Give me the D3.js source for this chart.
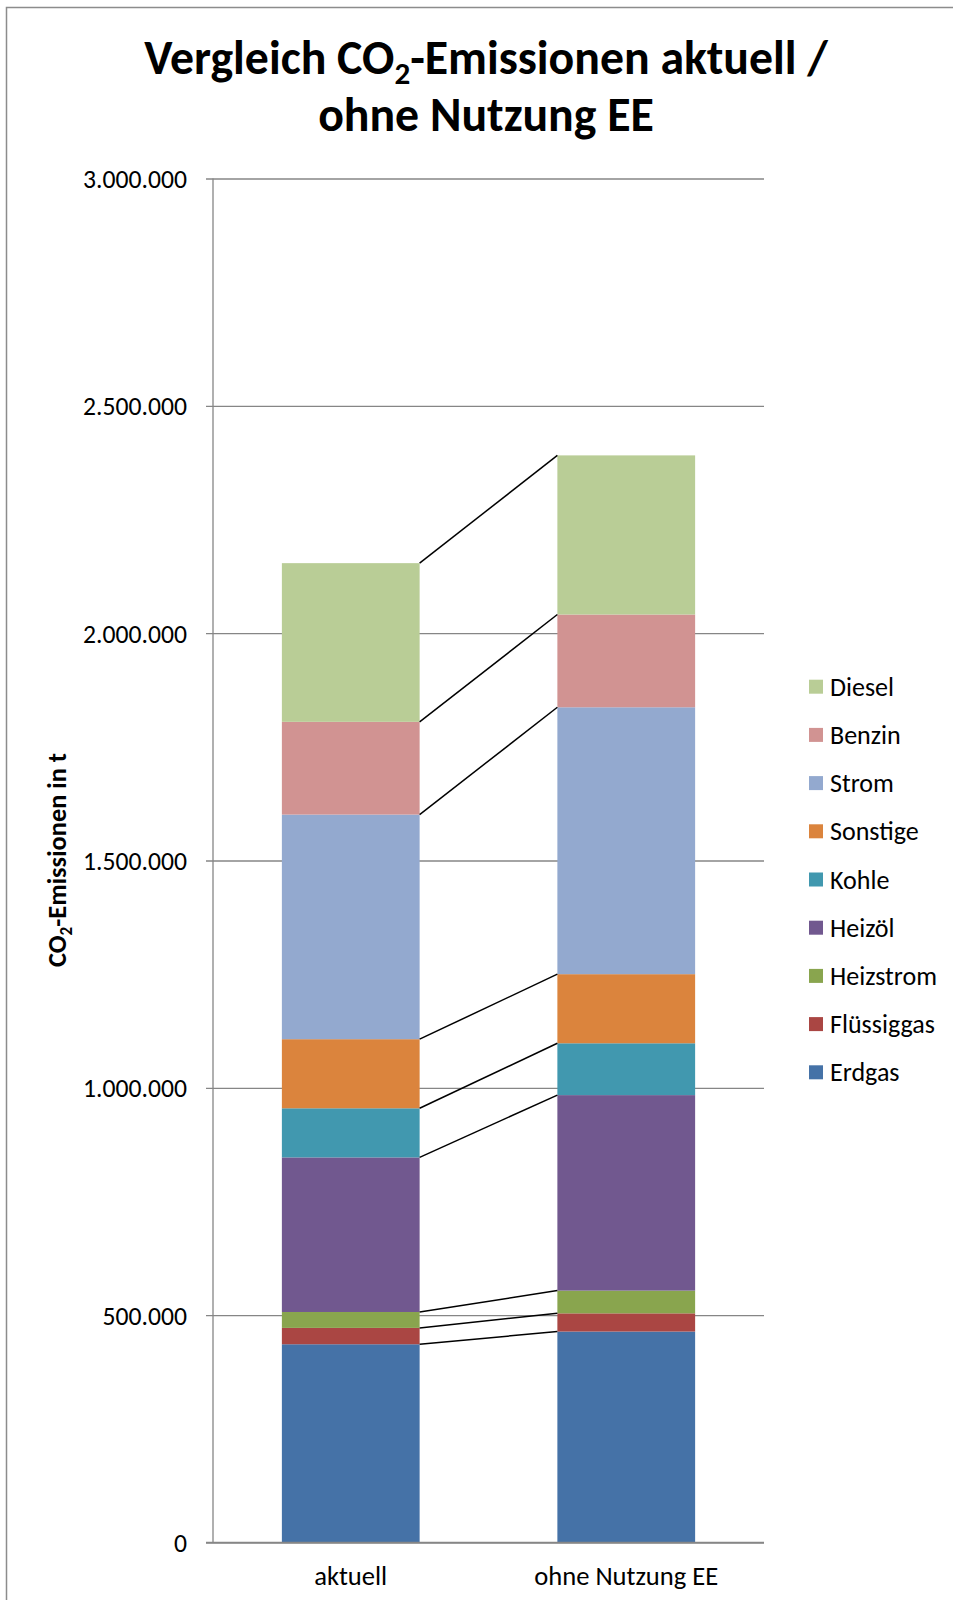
<!DOCTYPE html>
<html>
<head>
<meta charset="utf-8">
<script src="https://cdn.jsdelivr.net/npm/d3@7"></script>
<style>
  html, body { margin: 0; padding: 0; background: #fff; }
  svg { display: block; }
  text { font-family: Carlito, Lato, "Open Sans", sans-serif; fill: #000; }
</style>
</head>
<body>
<svg id="chart" width="953" height="1600"></svg>
<script>
// ---- data ----
const categories = ["aktuell", "ohne Nutzung EE"];
const seriesNames = ["Erdgas", "Flüssiggas", "Heizstrom", "Heizöl", "Kohle", "Sonstige", "Strom", "Benzin", "Diesel"];
const aktuell = [436000, 36000, 35000, 340000, 108000, 152000, 494000, 204000, 349000];
const ohneEE  = [464000, 40000, 50000, 430000, 114000, 152000, 587000, 204000, 350000];
const yTicks = [0, 500000, 1000000, 1500000, 2000000, 2500000, 3000000];
const yTickLabels = ["0", "500.000", "1.000.000", "1.500.000", "2.000.000", "2.500.000", "3.000.000"];
const colors = ["#4572A7", "#AA4643", "#89A54E", "#71588F", "#4198AF", "#DB843D", "#93A9CF", "#D19392", "#B9CD96"];
const titleLine1 = ["Vergleich CO", "2", "-Emissionen aktuell /"];
const titleLine2 = "ohne Nutzung EE";
const yTitle = ["CO", "2", "-Emissionen in t"];

// ---- layout ----
const svg = d3.select("#chart");
const plot = { left: 213, right: 764, top: 178.5, bottom: 1542.5 };

const y = d3.scaleLinear().domain([0, 3000000]).range([plot.bottom, plot.top]);
const x = d3.scaleBand().domain(categories).range([plot.left, plot.right]).paddingInner(0.5).paddingOuter(0.25);
const color = d3.scaleOrdinal().domain(seriesNames).range(colors);

// outer border (top & left visible)
svg.append("rect").attr("x", 6.5).attr("y", 7.5).attr("width", 1000).attr("height", 1700)
  .attr("fill", "none").attr("stroke", "#8c8c8c").attr("stroke-width", 1.5);

function fitFont(sel, target) {
  const fs = parseFloat(sel.attr("font-size"));
  const w = sel.node().getComputedTextLength();
  const nf = fs * target / w;
  sel.attr("font-size", nf);
  return nf;
}

// gridlines + tick labels
const yAxis = d3.axisLeft(y).tickValues(yTicks).tickSize(-(plot.right - plot.left)).tickFormat((d, i) => yTickLabels[i]);
const gy = svg.append("g").attr("transform", `translate(${plot.left},0)`).call(yAxis);
gy.select(".domain").remove();
gy.selectAll(".tick line").attr("stroke", "#868686").attr("stroke-width", 1.3).attr("x1", -7);
const tickTexts = gy.selectAll(".tick text").attr("x", -26).attr("dy", "0.35em")
  .attr("font-size", 24).attr("font-family", "Carlito, Lato, sans-serif").attr("fill", "#000");
{
  const fs = fitFont(tickTexts.filter(d => d === 1500000), 104);
  tickTexts.attr("font-size", fs);
}

// y axis line
svg.append("line").attr("x1", plot.left).attr("x2", plot.left).attr("y1", plot.top).attr("y2", plot.bottom)
  .attr("stroke", "#868686").attr("stroke-width", 1.3);

// stacked data
const table = categories.map((c, ci) => {
  const o = { cat: c };
  seriesNames.forEach((s, si) => { o[s] = ci === 0 ? aktuell[si] : ohneEE[si]; });
  return o;
});
const stacked = d3.stack().keys(seriesNames)(table);

svg.append("g").selectAll("g").data(stacked).join("g")
  .attr("fill", d => color(d.key))
  .selectAll("rect").data(d => d).join("rect")
  .attr("x", d => x(d.data.cat))
  .attr("width", x.bandwidth())
  .attr("y", d => y(d[1]))
  .attr("height", d => y(d[0]) - y(d[1]));

// series lines (connectors)
svg.append("g").selectAll("line").data(stacked).join("line")
  .attr("x1", x(categories[0]) + x.bandwidth())
  .attr("x2", x(categories[1]))
  .attr("y1", d => y(d[0][1]))
  .attr("y2", d => y(d[1][1]))
  .attr("stroke", "#000").attr("stroke-width", 1.5);

// baseline
svg.append("line").attr("x1", plot.left - 7).attr("x2", plot.right).attr("y1", y(0)).attr("y2", y(0))
  .attr("stroke", "#868686").attr("stroke-width", 1.3);

// category labels
const catLabels = svg.append("g").selectAll("text").data(categories).join("text")
  .attr("x", d => x(d) + x.bandwidth() / 2).attr("y", 1585)
  .attr("text-anchor", "middle").attr("font-size", 24).text(d => d);
{
  const fs = fitFont(catLabels.filter((d, i) => i === 1), 184);
  catLabels.attr("font-size", fs);
}

// title
const t1 = svg.append("text").attr("x", 486).attr("y", 73.5).attr("text-anchor", "middle")
  .attr("font-weight", "bold").attr("font-size", 46);
t1.append("tspan").text(titleLine1[0]);
const sub1 = t1.append("tspan").attr("font-size", 30).attr("dy", 10).text(titleLine1[1]);
const rest1 = t1.append("tspan").attr("dy", -10).text(titleLine1[2]);
const tfs = fitFont(t1, 684);
sub1.attr("font-size", tfs * 0.65).attr("dy", tfs * 0.23);
rest1.attr("dy", -tfs * 0.23);
svg.append("text").attr("x", 486).attr("y", 131).attr("text-anchor", "middle")
  .attr("font-weight", "bold").attr("font-size", tfs).text(titleLine2);

// y axis title
const yt = svg.append("text").attr("transform", "translate(65.5,860) rotate(-90)")
  .attr("text-anchor", "middle").attr("font-weight", "bold").attr("font-size", 20);
yt.append("tspan").text(yTitle[0]);
const sub2 = yt.append("tspan").attr("font-size", 13).attr("dy", 4.5).text(yTitle[1]);
const rest2 = yt.append("tspan").attr("dy", -4.5).text(yTitle[2]);
const yfs = fitFont(yt, 214);
sub2.attr("font-size", yfs * 0.65).attr("dy", yfs * 0.23);
rest2.attr("dy", -yfs * 0.23);

// legend (reverse order, Diesel on top)
const legendItems = seriesNames.slice().reverse();
const lg = svg.append("g").selectAll("g").data(legendItems).join("g")
  .attr("transform", (d, i) => `translate(809,${686.7 + i * 48.2})`);
lg.append("rect").attr("x", 0).attr("y", -7).attr("width", 14).attr("height", 14).attr("fill", d => color(d));
const lt = lg.append("text").attr("x", 21).attr("dy", "0.35em").attr("font-size", 24).text(d => d);
{
  const fs = fitFont(lt.filter(d => d === "Heizstrom"), 107);
  lt.attr("font-size", fs);
}
</script>
</body>
</html>
